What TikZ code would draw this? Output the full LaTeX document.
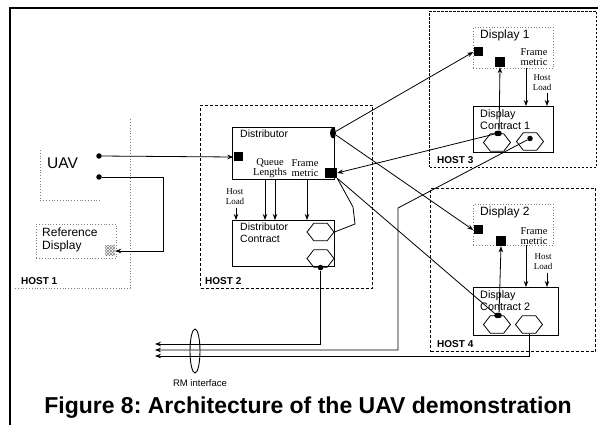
\documentclass[tikz,border=0pt]{standalone}
\usepackage{fontspec}
\setmainfont{Liberation Serif}
\setsansfont{Liberation Sans}
\usetikzlibrary{shapes.geometric, arrows.meta, patterns, positioning}
\frenchspacing

\begin{document}
\begin{tikzpicture}[x=1pt, y=-1pt,
	every node/.style={font=\sffamily, inner sep=0pt},
	box/.style={draw, line width=0.9pt, anchor=north west},
	faintbox/.style={draw, gray, dotted, line width=0.8pt, anchor=north west},
	hostbox/.style={draw, dashed, line width=1pt, dash pattern=on 3pt off 2pt, anchor=north west},
	hostlbl/.style={font=\sffamily\bfseries\fontsize{10}{11}\selectfont, anchor=west},
	boxlbl/.style={align=left, anchor=north west},
	smalllbl/.style={font=\rmfamily\fontsize{10.5}{10}\selectfont, align=center},
	loadlbl/.style={font=\rmfamily\fontsize{9}{10}\selectfont, align=center},
	port/.style={fill=black, minimum size=9pt},
	dotport/.style={circle, fill=black, minimum size=5.5pt},
	hexa/.style={draw, line width=0.8pt, regular polygon, regular polygon sides=6, minimum size=20pt, xscale=1.35},
	flow/.style={line width=0.8pt, -{Stealth[length=6pt, width=4.5pt]}},
	wire/.style={line width=0.8pt}
	]
	\useasboundingbox (0,0) rectangle (598,425);
	
	% page frame
	\draw[line width=1.6pt] (10,425) -- (10,8) -- (598,8);
	
	% Host 1 side
	\draw[gray, dotted, line width=0.8pt] (15,288) -- (130,288) -- (130,118);
	\draw[gray, dotted, line width=0.8pt] (40,150) -- (40,200) -- (100,200);
	\node[font=\sffamily\fontsize{15.5}{17}\selectfont, anchor=west] (uav) at (47,163) {UAV};
	\node[dotport] (uavout1) at (99,156) {};
	\node[dotport] (uavout2) at (99,177) {};
	\node[faintbox, minimum width=80pt, minimum height=34pt] (refdisp) at (36,224) {};
	\node[boxlbl, font=\sffamily\fontsize{12}{13}\selectfont] (refname) at (42,228) {Reference\\Display};
	\node[pattern=crosshatch, pattern color=gray, minimum size=10pt] (refport) at (110,251) {};
	\node[hostlbl] (host1lbl) at (21,281) {HOST 1};
	
	% Host 2 side
	\node[hostbox, minimum width=172pt, minimum height=183pt] (host2) at (200,105) {};
	\node[hostlbl] (host2lbl) at (205,281) {HOST 2};
	\node[box, minimum width=102pt, minimum height=52pt] (dist) at (232,127) {};
	\node[boxlbl, font=\sffamily\fontsize{10.5}{12}\selectfont] (distname) at (240,130) {Distributor};
	\node[port] (distin) at (238,157) {};
	\node[port, minimum width=12pt, minimum height=10pt] (distsq) at (331,173) {};
	\node[ellipse, fill=black, minimum width=6pt, minimum height=11pt] (distport) at (333,133) {};
	\node[smalllbl] (queuelbl) at (270,168) {Queue\\Lengths};
	\node[smalllbl] (framelbl) at (305,168) {Frame\\metric};
	\node[loadlbl] (hostload2) at (235,197) {Host\\Load};
	\node[box, minimum width=102pt, minimum height=46pt] (dcon) at (232,220) {};
	\node[boxlbl, font=\sffamily\fontsize{10.5}{12}\selectfont] (dconname) at (240,223) {Distributor\\Contract};
	\node[hexa] (dchexA) at (320.5,232) {};
	\node[hexa] (dchexB) at (320.5,258.5) {};
	\node[dotport] (dcout) at (dchexB.south) {};
	
	% Host 3 side
	\node[hostbox, dash pattern=on 2.5pt off 1.5pt, minimum width=167pt, minimum height=156pt] (host3) at (429,11) {};
	\node[hostlbl] (host3lbl) at (437,160) {HOST 3};
	\node[faintbox, minimum width=80pt, minimum height=41pt] (disp1) at (473,27) {};
	\node[boxlbl, font=\sffamily\fontsize{12}{14}\selectfont] (disp1name) at (480,30) {Display 1};
	\node[port] (disp1in) at (478,52) {};
	\node[port, minimum size=10pt] (disp1fm) at (500,62) {};
	\node[smalllbl] (frame1lbl) at (534,57) {Frame\\metric};
	\node[loadlbl] (hostload3) at (542,83) {Host\\Load};
	\node[box, minimum width=80pt, minimum height=46pt] (dc1) at (473,106) {};
	\node[boxlbl, font=\sffamily\fontsize{10.8}{12}\selectfont] (dc1name) at (480,109) {Display\\Contract 1};
	\node[hexa] (dc1hexA) at (497,142.5) {};
	\node[hexa] (dc1hexB) at (530,141.5) {};
	\node[dotport] (dc1a) at (dc1hexA.side 1) {};
	\node[dotport] (dc1b) at ([xshift=2pt]dc1hexA.north) {};
	\node[dotport] (dc1c) at ([yshift=3pt]dc1hexB.center) {};
	
	% Host 4 side
	\node[hostbox, minimum width=165pt, minimum height=163pt] (host4) at (430,188) {};
	\node[hostlbl] (host4lbl) at (437,344) {HOST 4};
	\node[faintbox, minimum width=80pt, minimum height=41pt] (disp2) at (473,204) {};
	\node[boxlbl, font=\sffamily\fontsize{12}{14}\selectfont] (disp2name) at (480,207) {Display 2};
	\node[port] (disp2in) at (478,230) {};
	\node[port, minimum size=10pt] (disp2fm) at (501,241) {};
	\node[smalllbl] (frame2lbl) at (534,236) {Frame\\metric};
	\node[loadlbl] (hostload4) at (543,262) {Host\\Load};
	\node[box, minimum width=85pt, minimum height=48pt] (dc2) at (473,287) {};
	\node[boxlbl, font=\sffamily\fontsize{10.8}{12}\selectfont] (dc2name) at (480,290) {Display\\Contract 2};
	\node[hexa] (dc2hexA) at (497,324.5) {};
	\node[hexa] (dc2hexB) at (529,324.5) {};
	\node[dotport] (dc2a) at (dc2hexA.side 1) {};
	\node[dotport] (dc2b) at ([xshift=2pt]dc2hexA.north) {};
	
	% RM interface
	\coordinate (rm1) at (155,344);
	\coordinate (rm2) at (155,350);
	\coordinate (rm3) at (155,356);
	\node[draw, ellipse, line width=0.9pt, minimum width=10pt, minimum height=44pt] (rmring) at (195,351) {};
	\node[font=\sffamily\fontsize{9.5}{10}\selectfont] (rmlbl) at (200,383) {RM interface};
	
	% caption
	\node[font=\sffamily\bfseries\fontsize{23}{26}\selectfont, anchor=base] (caption) at (308,413) {Figure 8: Architecture of the UAV demonstration};
	
	% connectors
	\draw[flow] (uavout1) -- (distin.west);
	\draw[flow] (uavout2) -- (163,177) |- (refport.east);
	\draw[flow] (distport) -- (disp1in.west);
	\draw[flow] (distport) -- (disp2in.west);
	\draw[flow] (dc1a) -- (distsq.east);
	\draw[wire] (dc2a) -- (distsq.south east);
	\draw[wire] (distsq.south east) -- (353,207) -- (355,224) -- (dchexA.east);
	\draw[flow] (265,179) -- (265,220);
	\draw[flow] (275,179) -- (275,220);
	\draw[flow] (307,179) -- (307,220);
	\draw[flow] (236,208) -- (236,220);
	\draw[flow] (dc1b) -- (disp1fm.south);
	\draw[flow] (526,68) -- (526,106);
	\draw[flow] (547,93) -- (547,106);
	\draw[flow] (dc2b) -- (disp2fm.south);
	\draw[flow] (526,245) -- (526,287);
	\draw[flow] (547,273) -- (547,287);
	\draw[flow] (dcout) |- (rm1);
	\draw[flow] (dc1c) -- (398,208) |- (rm2);
	\draw[flow] (dc2hexB.south) |- (rm3);
	
\end{tikzpicture}
\end{document}
